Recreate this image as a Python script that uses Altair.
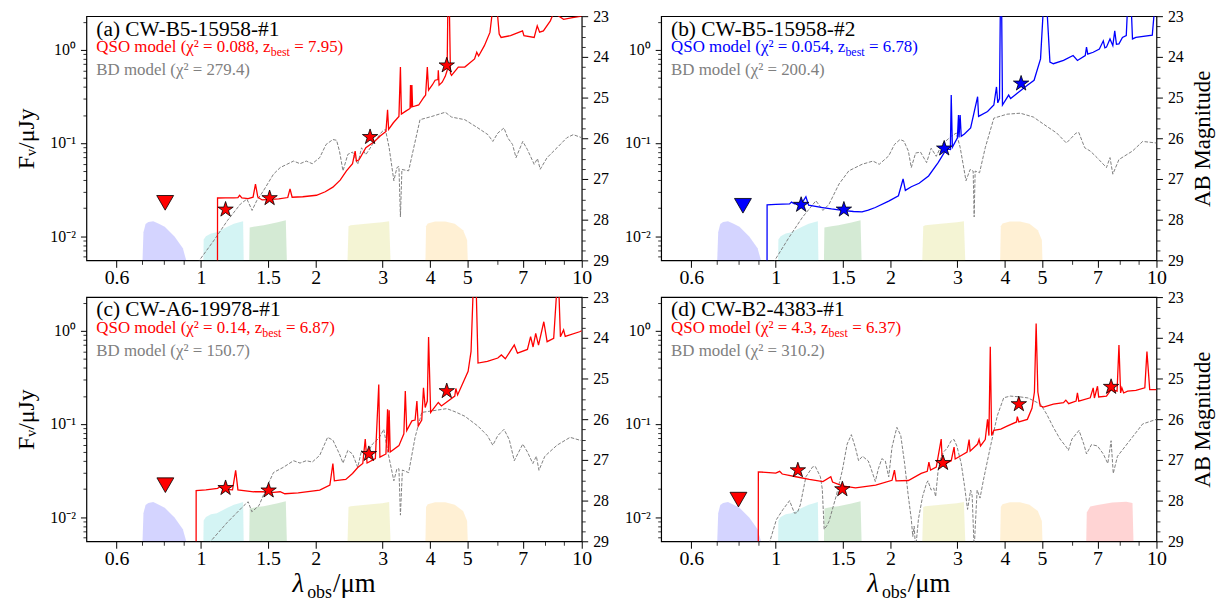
import json
import altair as alt
import pandas as pd

FONT = "Liberation Serif"
W, H = 499, 246

# ---------------- axes / scales ----------------
X_DOMAIN = [0.5, 10.0]
Y_DOMAIN = [0.0055, 2.3]
AB_DOMAIN = [23, 29]
X_MAJOR = [0.6, 1, 1.5, 2, 3, 4, 5, 7, 10]
X_MAJOR_LABELS = ["0.6", "1", "1.5", "2", "3", "4", "5", "7", "10"]
X_MINOR = [0.7, 0.8, 0.9, 6, 8, 9]
Y_MAJOR = [0.01, 0.1, 1]
Y_MAJOR_LABELS = ["10⁻²", "10⁻¹", "10⁰"]
Y_MINOR = [0.006, 0.007, 0.008, 0.009, 0.02, 0.03, 0.04, 0.05, 0.06, 0.07, 0.08, 0.09,
           0.2, 0.3, 0.4, 0.5, 0.6, 0.7, 0.8, 0.9, 2]
AB_MAJOR = [23, 24, 25, 26, 27, 28, 29]
AB_MINOR = [23.25, 23.5, 23.75, 24.25, 24.5, 24.75, 25.25, 25.5, 25.75, 26.25, 26.5, 26.75,
            27.25, 27.5, 27.75, 28.25, 28.5, 28.75]

# ---------------- filter curves (lambda [um], scaled transmission [uJy]) ----------------
FILTER_NAMES = ["F814W", "F115W", "F150W", "F277W", "F444W", "F770W"]
FILTER_COLORS = ["#0000ff", "#00bfbf", "#008000", "#bfbf00", "#ffa500", "#ff0000"]
FILTER_BASE = 0.001
F814W = [(0.700, 0.004), (0.706, 0.0110), (0.715, 0.0135), (0.727, 0.0142), (0.749, 0.0145),
         (0.775, 0.0136), (0.803, 0.0126), (0.852, 0.0099), (0.896, 0.0074), (0.935, 0.004)]
F115W = [(1.013, 0.004), (1.016, 0.0092), (1.03, 0.0100), (1.062, 0.0107), (1.10, 0.0110),
         (1.173, 0.0126), (1.22, 0.0136), (1.26, 0.0141), (1.29, 0.0145), (1.296, 0.004)]
F150W = [(1.337, 0.004), (1.342, 0.0124), (1.40, 0.0128), (1.46, 0.0131), (1.58, 0.0140),
         (1.67, 0.0148), (1.684, 0.004)]
F277W = [(2.42, 0.004), (2.44, 0.0128), (2.47, 0.0131), (2.71, 0.0136), (2.99, 0.0141),
         (3.12, 0.0145), (3.155, 0.004)]
F444W = [(3.88, 0.004), (3.90, 0.0128), (3.94, 0.0137), (4.12, 0.0144), (4.38, 0.0144),
         (4.64, 0.0136), (4.88, 0.0116), (5.0, 0.0091), (5.03, 0.004)]
F770W = [(6.53, 0.004), (6.56, 0.0112), (6.70, 0.0130), (7.0, 0.0135), (7.65, 0.0143),
         (8.33, 0.0146), (8.65, 0.0142), (8.72, 0.004)]
FILTERS = {"F814W": F814W, "F115W": F115W, "F150W": F150W, "F277W": F277W,
           "F444W": F444W, "F770W": F770W}

# ---------------- panel (a) ----------------
A_QSO = [(0.5, 1e-4), (1.104, 1e-4), (1.105, 0.0257), (1.16, 0.0258), (1.22, 0.0258), (1.25, 0.026),
         (1.263, 0.0275), (1.28, 0.0258), (1.33, 0.0253), (1.37, 0.0262), (1.39, 0.0363), (1.41, 0.0262),
         (1.447, 0.0245), (1.52, 0.0248), (1.60, 0.0252), (1.69, 0.0260), (1.713, 0.0322), (1.735, 0.0262),
         (1.85, 0.0265), (2.01, 0.0275), (2.12, 0.0300), (2.22, 0.0336), (2.32, 0.0400), (2.41, 0.0503),
         (2.50, 0.060), (2.54, 0.082), (2.56, 0.064), (2.60, 0.066), (2.71, 0.0889), (2.85, 0.103),
         (2.95, 0.118), (3.06, 0.133), (3.09, 0.227), (3.11, 0.140), (3.20, 0.165), (3.31, 0.193),
         (3.34, 0.654), (3.36, 0.205), (3.45, 0.22), (3.54, 0.235), (3.55, 0.42), (3.565, 0.24),
         (3.58, 0.42), (3.595, 0.245), (3.73, 0.256), (3.85, 0.31), (3.89, 0.327), (3.93, 0.654),
         (3.96, 0.37), (4.05, 0.42), (4.12, 0.472), (4.19, 0.48), (4.20, 0.603), (4.22, 0.418),
         (4.30, 0.45), (4.38, 0.52), (4.43, 0.60), (4.45, 3.0), (4.49, 3.0), (4.52, 0.56), (4.55, 0.533),
         (4.74, 0.654), (4.93, 0.654), (5.23, 0.80), (5.30, 0.943), (5.36, 0.86), (5.55, 1.11),
         (5.74, 1.54), (5.85, 3.0), (5.98, 3.0), (6.07, 1.48), (6.14, 1.36), (6.50, 1.42), (6.99, 1.60),
         (7.05, 1.42), (7.50, 1.36), (7.64, 1.81), (7.75, 1.55), (7.93, 1.60), (8.27, 2.05), (8.44, 2.5),
         (8.96, 2.13), (9.46, 2.22), (10.0, 2.3)]
A_BD = [(0.98, 0.004), (0.99, 0.0055), (1.083, 0.0091), (1.173, 0.0147), (1.27, 0.0222), (1.32, 0.0250),
        (1.362, 0.0189), (1.40, 0.0240), (1.46, 0.0309), (1.55, 0.0463), (1.614, 0.0545), (1.75, 0.064),
        (1.82, 0.060), (1.89, 0.064), (1.96, 0.060), (2.05, 0.0697), (2.13, 0.0964), (2.22, 0.109),
        (2.27, 0.107), (2.31, 0.082), (2.36, 0.0503), (2.43, 0.0755), (2.50, 0.080), (2.58, 0.0591),
        (2.64, 0.0889), (2.71, 0.075), (2.82, 0.0964), (2.99, 0.133), (3.05, 0.14), (3.12, 0.0889),
        (3.21, 0.0394), (3.27, 0.0545), (3.31, 0.056), (3.34, 0.0161), (3.37, 0.052), (3.51, 0.0503),
        (3.62, 0.0889), (3.76, 0.178), (4.04, 0.193), (4.38, 0.214), (4.55, 0.19), (4.93, 0.178),
        (5.34, 0.145), (5.67, 0.123), (5.84, 0.104), (6.02, 0.128), (6.25, 0.145), (6.39, 0.114),
        (6.58, 0.0964), (6.72, 0.0697), (7.0, 0.104), (7.2, 0.085), (7.5, 0.0591), (7.65, 0.068),
        (7.78, 0.0523), (8.11, 0.0697), (8.61, 0.0889), (9.14, 0.114), (9.5, 0.123), (10.0, 0.114)]
A_STARS = [(1.16, 0.0193), (1.514, 0.0256), (2.78, 0.116), (4.42, 0.681)]
A_UL = [(0.805, 0.0228)]

# ---------------- panel (b) ----------------
B_QSO = [(0.5, 1e-4), (0.948, 1e-4), (0.949, 0.0217), (1.0, 0.0219), (1.087, 0.0222), (1.10, 0.0232),
         (1.12, 0.0222), (1.17, 0.0225), (1.20, 0.0265), (1.22, 0.0215), (1.327, 0.0203), (1.40, 0.0196),
         (1.496, 0.0189), (1.60, 0.0184), (1.685, 0.0182), (1.75, 0.0190), (1.826, 0.0203), (1.98, 0.0238),
         (2.10, 0.0272), (2.16, 0.0411), (2.19, 0.031), (2.27, 0.0339), (2.38, 0.037), (2.52, 0.0443),
         (2.67, 0.0616), (2.77, 0.0789), (2.83, 0.086), (2.875, 0.085), (2.89, 0.327), (2.91, 0.090),
         (3.0, 0.114), (3.02, 0.20), (3.03, 0.115), (3.05, 0.20), (3.07, 0.118), (3.13, 0.125),
         (3.25, 0.145), (3.39, 0.314), (3.41, 0.193), (3.6, 0.218), (3.74, 0.256), (3.80, 0.40),
         (3.83, 0.27), (3.87, 0.30), (3.89, 3.0), (3.92, 3.0), (3.94, 0.256), (4.09, 0.327), (4.14, 0.30),
         (4.30, 0.34), (4.58, 0.418), (4.77, 0.472), (4.96, 0.80), (5.05, 3.0), (5.15, 3.0), (5.25, 0.74),
         (5.36, 0.71), (5.70, 0.77), (6.04, 0.87), (6.2, 0.77), (6.5, 0.87), (6.55, 1.07), (6.6, 0.90),
         (6.82, 0.943), (7.08, 1.02), (7.25, 1.25), (7.32, 1.05), (7.39, 1.07), (7.55, 1.31), (7.68, 1.11),
         (7.77, 1.60), (7.85, 1.15), (7.97, 1.16), (8.14, 1.36), (8.33, 1.42), (8.40, 3.0), (8.58, 3.0),
         (8.65, 1.31), (8.83, 1.36), (9.75, 1.44), (9.9, 3.0), (10.0, 3.0)]
B_BD = [(0.98, 0.004), (0.994, 0.0055), (1.087, 0.0099), (1.177, 0.0161), (1.275, 0.0240), (1.33, 0.0189),
        (1.38, 0.022), (1.466, 0.0363), (1.556, 0.0503), (1.685, 0.0591), (1.80, 0.064), (1.87, 0.0591),
        (1.98, 0.0727), (2.05, 0.0964), (2.12, 0.109), (2.17, 0.105), (2.23, 0.082), (2.27, 0.0545),
        (2.33, 0.078), (2.40, 0.080), (2.49, 0.0616), (2.56, 0.088), (2.64, 0.072), (2.73, 0.0964),
        (2.89, 0.118), (2.98, 0.128), (3.05, 0.09), (3.16, 0.0394), (3.24, 0.052), (3.30, 0.050),
        (3.32, 0.0161), (3.34, 0.050), (3.43, 0.0480), (3.55, 0.0889), (3.74, 0.185), (4.05, 0.204),
        (4.39, 0.209), (4.75, 0.19), (5.15, 0.151), (5.47, 0.128), (5.80, 0.100), (6.15, 0.128),
        (6.25, 0.130), (6.48, 0.0889), (6.70, 0.082), (6.98, 0.0697), (7.39, 0.0545), (7.55, 0.0697),
        (7.68, 0.0463), (7.97, 0.0665), (8.65, 0.082), (9.2, 0.104), (10.0, 0.100)]
B_STARS = [(1.166, 0.0217), (1.51, 0.0193), (2.77, 0.0873), (4.41, 0.435)]
B_UL = [(0.82, 0.0212)]

# ---------------- panel (c) ----------------
C_QSO = [(0.5, 1e-4), (0.970, 1e-4), (0.971, 0.0193), (1.03, 0.0196), (1.105, 0.0203), (1.12, 0.0212),
         (1.14, 0.0200), (1.21, 0.0196), (1.233, 0.0318), (1.25, 0.0196), (1.375, 0.0187), (1.45, 0.0188),
         (1.55, 0.0184), (1.614, 0.0187), (1.66, 0.0178), (1.80, 0.0182), (2.05, 0.0195), (2.18, 0.0220),
         (2.22, 0.0376), (2.24, 0.0245), (2.31, 0.025), (2.40, 0.0254), (2.50, 0.0294), (2.58, 0.034),
         (2.66, 0.0376), (2.70, 0.0688), (2.73, 0.038), (2.87, 0.0424), (2.93, 0.265), (2.95, 0.044),
         (3.06, 0.0476), (3.09, 0.144), (3.105, 0.05), (3.12, 0.14), (3.14, 0.05), (3.31, 0.0585),
         (3.41, 0.0783), (3.44, 0.225), (3.47, 0.085), (3.58, 0.108), (3.65, 0.11), (3.69, 0.176),
         (3.72, 0.095), (3.80, 0.11), (3.84, 0.244), (3.88, 0.15), (3.93, 0.176), (3.96, 0.857),
         (4.01, 0.133), (4.20, 0.170), (4.28, 0.156), (4.64, 0.199), (4.67, 0.24), (4.72, 0.205),
         (5.03, 0.368), (5.12, 0.6), (5.19, 3.0), (5.28, 3.0), (5.34, 0.45), (5.65, 0.47), (6.02, 0.51),
         (6.15, 0.55), (6.30, 0.50), (6.65, 0.705), (6.78, 0.575), (7.2, 0.63), (7.34, 0.864),
         (7.45, 0.67), (7.57, 0.936), (7.70, 0.70), (7.95, 1.25), (8.11, 0.764), (8.44, 0.829),
         (8.61, 3.0), (8.70, 3.0), (8.79, 0.864), (8.96, 1.02), (9.05, 0.87), (9.87, 0.976), (10.0, 1.0)]
C_BD = [(1.05, 0.004), (1.06, 0.0055), (1.17, 0.0087), (1.296, 0.0133), (1.33, 0.0146), (1.36, 0.0114),
        (1.42, 0.0133), (1.49, 0.0212), (1.55, 0.0301), (1.645, 0.0342), (1.75, 0.0403), (1.82, 0.0380),
        (1.89, 0.0403), (1.96, 0.0390), (2.05, 0.046), (2.15, 0.0718), (2.22, 0.067), (2.31, 0.0476),
        (2.36, 0.038), (2.43, 0.052), (2.50, 0.0476), (2.58, 0.0342), (2.64, 0.052), (2.71, 0.045),
        (2.82, 0.0608), (2.93, 0.070), (3.02, 0.0875), (3.09, 0.052), (3.21, 0.0245), (3.27, 0.033),
        (3.31, 0.033), (3.34, 0.0105), (3.38, 0.032), (3.51, 0.030), (3.65, 0.0718), (3.80, 0.133),
        (4.04, 0.138), (4.42, 0.146), (4.65, 0.135), (4.93, 0.121), (5.34, 0.0946), (5.65, 0.075),
        (5.84, 0.0591), (6.02, 0.075), (6.25, 0.0875), (6.45, 0.068), (6.65, 0.0403), (7.0, 0.0608),
        (7.2, 0.050), (7.44, 0.0376), (7.6, 0.045), (7.72, 0.0318), (8.0, 0.045), (8.61, 0.0591),
        (9.32, 0.0718), (10.0, 0.0660)]
C_STARS = [(1.16, 0.0205), (1.505, 0.0193), (2.76, 0.0476), (4.42, 0.225)]
C_UL = [(0.806, 0.0220)]

# ---------------- panel (d) ----------------
D_QSO = [(0.5, 1e-4), (0.899, 1e-4), (0.90, 0.0306), (0.96, 0.0300), (1.0, 0.0296), (1.024, 0.031),
         (1.04, 0.029), (1.13, 0.0271), (1.225, 0.0254), (1.33, 0.0240), (1.395, 0.0271), (1.41, 0.0238),
         (1.496, 0.0216), (1.62, 0.0206), (1.83, 0.0220), (2.02, 0.0248), (2.05, 0.0320), (2.07, 0.0245),
         (2.23, 0.0247), (2.41, 0.0294), (2.50, 0.031), (2.525, 0.039), (2.55, 0.032), (2.64, 0.0345),
         (2.72, 0.0688), (2.74, 0.036), (2.89, 0.0403), (2.94, 0.0563), (2.96, 0.042), (3.07, 0.0458),
         (3.18, 0.050), (3.22, 0.068), (3.24, 0.051), (3.39, 0.0608), (3.42, 0.068), (3.45, 0.058),
         (3.55, 0.068), (3.60, 0.112), (3.63, 0.075), (3.66, 0.675), (3.69, 0.075), (3.74, 0.0852),
         (3.90, 0.088), (4.05, 0.0946), (4.29, 0.105), (4.31, 0.120), (4.35, 0.105), (4.58, 0.112),
         (4.71, 0.147), (4.78, 0.22), (4.83, 1.2), (4.88, 0.22), (4.95, 0.156), (5.05, 0.152),
         (5.36, 0.163), (5.70, 0.169), (5.78, 0.18), (5.88, 0.165), (6.15, 0.176), (6.20, 0.215),
         (6.25, 0.176), (6.7, 0.191), (6.82, 0.244), (6.87, 0.19), (7.0, 0.254), (7.05, 0.195),
         (7.39, 0.199), (7.6, 0.234), (7.88, 0.225), (7.97, 0.705), (8.05, 0.215), (8.11, 0.244),
         (8.20, 0.215), (8.40, 0.225), (8.83, 0.229), (9.32, 0.244), (9.44, 0.598), (9.6, 0.234),
         (10.0, 0.234)]
D_BD = [(0.96, 0.004), (0.965, 0.0055), (1.004, 0.0094), (1.045, 0.0121), (1.087, 0.0150), (1.12, 0.0110),
        (1.14, 0.0112), (1.16, 0.0135), (1.20, 0.0271), (1.25, 0.0346), (1.27, 0.0350), (1.31, 0.0271),
        (1.325, 0.0200), (1.34, 0.0074), (1.36, 0.0080), (1.38, 0.0090), (1.44, 0.0166), (1.496, 0.0318),
        (1.54, 0.0608), (1.58, 0.0767), (1.62, 0.055), (1.65, 0.0403), (1.69, 0.045), (1.75, 0.040),
        (1.78, 0.033), (1.826, 0.0241), (1.86, 0.033), (1.90, 0.0424), (1.94, 0.040), (1.98, 0.027),
        (2.02, 0.0563), (2.08, 0.0919), (2.13, 0.075), (2.18, 0.0376), (2.23, 0.0166), (2.27, 0.0095),
        (2.29, 0.0062), (2.31, 0.0080), (2.33, 0.0045), (2.37, 0.0095), (2.43, 0.0166), (2.49, 0.0232),
        (2.51, 0.0245), (2.56, 0.0195), (2.60, 0.0205), (2.63, 0.0166), (2.67, 0.0318), (2.72, 0.045),
        (2.76, 0.050), (2.82, 0.055), (2.89, 0.0660), (2.94, 0.068), (2.99, 0.058), (3.07, 0.0376),
        (3.13, 0.022), (3.19, 0.0121), (3.25, 0.0195), (3.28, 0.0170), (3.32, 0.0045), (3.35, 0.0095),
        (3.38, 0.0195), (3.44, 0.0160), (3.51, 0.0248), (3.66, 0.0563), (3.82, 0.123), (3.97, 0.191),
        (4.13, 0.199), (4.39, 0.195), (4.60, 0.19), (4.96, 0.163), (5.15, 0.127), (5.36, 0.0919),
        (5.58, 0.0689), (5.80, 0.0563), (5.87, 0.052), (6.0, 0.0689), (6.26, 0.0852), (6.45, 0.060),
        (6.55, 0.0476), (6.75, 0.060), (7.0, 0.058), (7.25, 0.0476), (7.45, 0.0376), (7.6, 0.066),
        (7.70, 0.0294), (7.9, 0.045), (8.5, 0.066), (9.2, 0.100), (10.0, 0.112)]
D_STARS = [(1.143, 0.0318), (1.496, 0.0199), (2.75, 0.0381), (4.35, 0.163), (7.6, 0.250)]
D_UL = [(0.798, 0.0154)]

PANELS = [
    dict(letter="a", name="CW-B5-15958-#1", chi_qso="0.088", z="7.95", chi_bd="279.4", color="#ff0000",
         qso=A_QSO, bd=A_BD, stars=A_STARS, ul=A_UL,
         filters=["F814W", "F115W", "F150W", "F277W", "F444W"]),
    dict(letter="b", name="CW-B5-15958-#2", chi_qso="0.054", z="6.78", chi_bd="200.4", color="#0000ff",
         qso=B_QSO, bd=B_BD, stars=B_STARS, ul=B_UL,
         filters=["F814W", "F115W", "F150W", "F277W", "F444W"]),
    dict(letter="c", name="CW-A6-19978-#1", chi_qso="0.14", z="6.87", chi_bd="150.7", color="#ff0000",
         qso=C_QSO, bd=C_BD, stars=C_STARS, ul=C_UL,
         filters=["F814W", "F115W", "F150W", "F277W", "F444W"]),
    dict(letter="d", name="CW-B2-4383-#1", chi_qso="4.3", z="6.37", chi_bd="310.2", color="#ff0000",
         qso=D_QSO, bd=D_BD, stars=D_STARS, ul=D_UL,
         filters=["F814W", "F115W", "F150W", "F277W", "F444W", "F770W"]),
]

STAR = ("M0,-1L0.2245,-0.309L0.951,-0.309L0.363,0.118L0.588,0.809L0,0.382"
        "L-0.588,0.809L-0.363,0.118L-0.951,-0.309L-0.2245,-0.309Z")

# Times / Liberation Serif advance widths (1/1000 em), for placing subscripts
TW = {' ': 250, '\u00a0': 250, '(': 333, ')': 333, ',': 250, '.': 250,
      '=': 564, '/': 278, '#': 500, '-': 333, 'Q': 722, 'S': 556, 'O': 722, 'B': 667, 'D': 722,
      'm': 778, 'o': 500, 'd': 500, 'e': 444, 'l': 278, 'z': 444, 'b': 500, 's': 389, 't': 278,
      'χ': 470, '²': 300, 'λ': 549, 'μ': 576}


def tw(s, size):
    return sum(TW.get(c, 500) for c in s) * size / 1000.0


def lookup_expr(vals, labels):
    return "(" + json.dumps({str(v): l for v, l in zip(vals, labels)}) + ")[datum.value]"


XS = alt.Scale(type="log", domain=X_DOMAIN, nice=False)
YS = alt.Scale(type="log", domain=Y_DOMAIN, nice=False)
ABS = alt.Scale(domain=AB_DOMAIN, reverse=True, zero=False, nice=False)


def pts(pairs):
    return pd.DataFrame({"i": list(range(len(pairs))), "lam": [p[0] for p in pairs],
                         "f": [p[1] for p in pairs]})


def text_layer(txt, x, y, size, color, style="normal"):
    return alt.Chart(pd.DataFrame({"t": [txt]})).mark_text(
        align="left", baseline="alphabetic", font=FONT, fontSize=size, color=color, fontStyle=style
    ).encode(x=alt.value(x), y=alt.value(y), text="t:N")


def make_panel(p, left_title, right_title, x_title):
    col = p["color"]
    xe = dict(scale=XS, axis=None)
    ye = dict(scale=YS, axis=None)
    frows = []
    for name in p["filters"]:
        for lam, f in FILTERS[name]:
            frows.append({"filt": name, "lam": lam, "f": f, "f0": FILTER_BASE})
    area = alt.Chart(pd.DataFrame(frows)).mark_area(opacity=0.17, clip=True).encode(
        x=alt.X("lam:Q", **xe), y=alt.Y("f:Q", **ye), y2="f0:Q",
        color=alt.Color("filt:N", scale=alt.Scale(domain=FILTER_NAMES, range=FILTER_COLORS), legend=None),
    )
    bd = alt.Chart(pts(p["bd"])).mark_line(color="#808080", strokeWidth=1, strokeDash=[3.5, 1.6],
                                           clip=True).encode(
        x=alt.X("lam:Q", **xe), y=alt.Y("f:Q", **ye), order="i:Q")
    qso = alt.Chart(pts(p["qso"])).mark_line(color=col, strokeWidth=1.3, clip=True).encode(
        x=alt.X("lam:Q", **xe), y=alt.Y("f:Q", **ye), order="i:Q")
    stars = alt.Chart(pts(p["stars"])).mark_point(
        shape=STAR, size=265, filled=True, fill=col, stroke="black", strokeWidth=0.8, opacity=1
    ).encode(x=alt.X("lam:Q", **xe), y=alt.Y("f:Q", **ye))
    ul = alt.Chart(pts(p["ul"])).mark_point(
        shape="triangle-down", size=290, filled=True, fill=col, stroke="black", strokeWidth=0.8, opacity=1
    ).encode(x=alt.X("lam:Q", **xe), y=alt.Y("f:Q", **ye))

    # annotation texts
    x0 = 10
    sa, sb = 17, 12
    segA = f"QSO model (χ² = {p['chi_qso']}, z"
    segB = "best"
    segC = f"= {p['z']})"
    xb = x0 + tw(segA, sa) - 0.5
    xc = xb + tw(segB, sb) + 4.5
    texts = [
        text_layer(f"({p['letter']}) {p['name']}", x0, 19.5, 21.5, "black"),
        text_layer(segA, x0, 36.5, sa, col),
        text_layer(segB, xb, 40.5, sb, col),
        text_layer(segC, xc, 36.5, sa, col),
        text_layer(f"BD model (χ² = {p['chi_bd']})", x0, 59, sa, "#808080"),
    ]
    if x_title:
        s1, s2 = 27, 18
        t1, t2, t3 = "λ", "obs", "/μm"
        total = tw(t1, s1) + tw(t2, s2) + tw(t3, s1)
        xs0 = W / 2 - total / 2
        texts += [
            text_layer(t1, xs0, H + 51, s1, "black", "italic"),
            text_layer(t2, xs0 + tw(t1, s1), H + 57, s2, "black"),
            text_layer(t3, xs0 + tw(t1, s1) + tw(t2, s2) + 1, H + 51, s1, "black"),
        ]

    common = dict(domain=False, grid=False, tickColor="black", labelColor="black", labelFont=FONT)
    ax_df_x = pd.DataFrame({"lam": X_MAJOR, "f": [0.1] * len(X_MAJOR)})
    ax_df_xm = pd.DataFrame({"lam": X_MINOR, "f": [0.1] * len(X_MINOR)})
    ax_df_y = pd.DataFrame({"lam": [1.0] * len(Y_MAJOR), "f": Y_MAJOR})
    ax_df_ym = pd.DataFrame({"lam": [1.0] * len(Y_MINOR), "f": Y_MINOR})

    ax_xmaj = alt.Chart(ax_df_x).mark_point(opacity=0).encode(
        x=alt.X("lam:Q", scale=XS, axis=alt.Axis(
            orient="bottom", values=X_MAJOR, labelExpr=lookup_expr(X_MAJOR, X_MAJOR_LABELS), tickSize=7,
            tickWidth=1, labelFontSize=20, labelPadding=0, labelFlush=False, labelOverlap=False,
            title=None, **common)),
        y=alt.Y("f:Q", **ye))
    ax_xmin = alt.Chart(ax_df_xm).mark_point(opacity=0).encode(
        x=alt.X("lam:Q", scale=XS, axis=alt.Axis(
            orient="bottom", values=X_MINOR, labels=False, tickSize=4, tickWidth=0.8, title=None, **common)),
        y=alt.Y("f:Q", **ye))
    ylab = dict(title="Fᵥ/μJy", titleFontSize=24, titleFont=FONT, titleFontWeight="normal",
                titleColor="black", titlePadding=12) if left_title else dict(title=None)
    ax_ymaj = alt.Chart(ax_df_y).mark_point(opacity=0).encode(
        x=alt.X("lam:Q", **xe),
        y=alt.Y("f:Q", scale=YS, axis=alt.Axis(
            orient="left", values=Y_MAJOR, labelExpr=lookup_expr(Y_MAJOR, Y_MAJOR_LABELS), tickSize=6,
            tickWidth=1, labelFontSize=16, labelPadding=5, labelOverlap=False, labelFlush=False,
            **ylab, **common)))
    ax_ymin = alt.Chart(ax_df_ym).mark_point(opacity=0).encode(
        x=alt.X("lam:Q", **xe),
        y=alt.Y("f:Q", scale=YS, axis=alt.Axis(
            orient="left", values=Y_MINOR, labels=False, tickSize=3.5, tickWidth=0.8, title=None, **common)))

    inner = alt.layer(area, bd, qso, ul, stars, *texts, ax_xmaj, ax_xmin, ax_ymaj, ax_ymin).resolve_axis(
        x="independent", y="independent")

    # right-hand AB magnitude axis (independent linear scale)
    rlab = dict(title="AB Magnitude", titleFontSize=23, titleFont=FONT, titleFontWeight="normal",
                titleColor="black", titleAngle=270, titleBaseline="top", titlePadding=8) \
        if right_title else dict(title=None)
    ab_df = pd.DataFrame({"lam": [1.0] * len(AB_MAJOR), "m": AB_MAJOR})
    abm_df = pd.DataFrame({"lam": [1.0] * len(AB_MINOR), "m": AB_MINOR})
    ax_rmaj = alt.Chart(ab_df).mark_point(opacity=0).encode(
        x=alt.X("lam:Q", **xe),
        y=alt.Y("m:Q", scale=ABS, axis=alt.Axis(
            orient="right", values=AB_MAJOR, tickSize=6, tickWidth=1, labelFontSize=16, labelPadding=5,
            labelOverlap=False, labelFlush=False, format="d", **rlab, **common)))
    ax_rmin = alt.Chart(abm_df).mark_point(opacity=0).encode(
        x=alt.X("lam:Q", **xe),
        y=alt.Y("m:Q", scale=ABS, axis=alt.Axis(
            orient="right", values=AB_MINOR, labels=False, tickSize=3.5, tickWidth=0.8, title=None,
            **common)))
    return alt.layer(inner, ax_rmaj, ax_rmin).resolve_scale(y="independent").resolve_axis(
        y="independent").properties(width=W, height=H)


pa = make_panel(PANELS[0], True, False, False)
pb = make_panel(PANELS[1], False, True, False)
pc = make_panel(PANELS[2], True, False, True)
pd_ = make_panel(PANELS[3], False, True, True)

top = alt.hconcat(pa, pb, spacing=14)
bot = alt.hconcat(pc, pd_, spacing=14)
chart = alt.vconcat(top, bot, spacing=0).properties(
    padding={"left": 5, "right": 5, "top": -3, "bottom": 5}
).configure_view(stroke="black", strokeWidth=1.2).configure_axis(
    labelFont=FONT, titleFont=FONT, grid=False
)

chart.save("out.html", embed_options={"renderer": "svg", "actions": False})
